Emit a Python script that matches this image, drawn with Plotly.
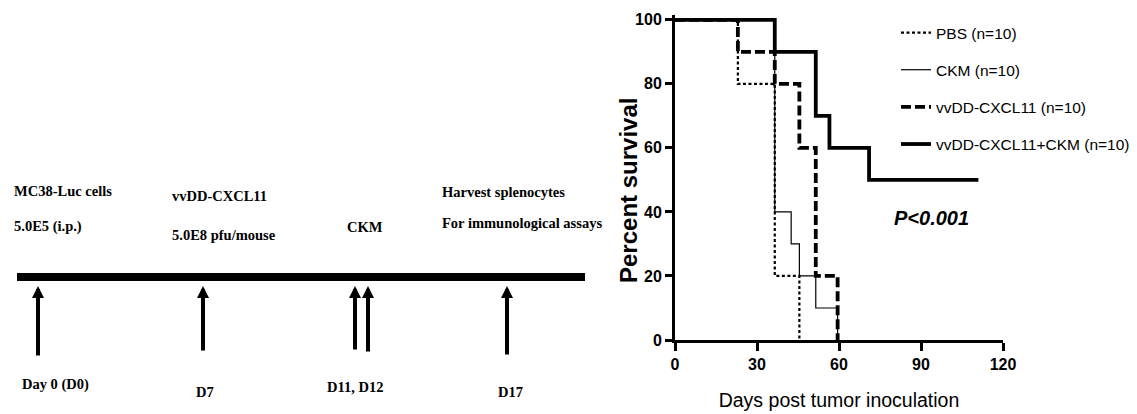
import plotly.graph_objects as go

# ---------------- data ----------------
# Kaplan-Meier survival steps (day, % survival)
group_names = ["PBS (n=10)", "CKM (n=10)", "vvDD-CXCL11 (n=10)", "vvDD-CXCL11+CKM (n=10)"]
pbs_days = [0, 23, 36.5, 45.5]
pbs_surv = [100, 80, 20, 0]
ckm_days = [0, 36.5, 42.5, 45.5, 51.5, 59.5]
ckm_surv = [100, 40, 30, 20, 10, 0]
vv_days = [0, 23, 36.5, 45.5, 51.5, 59.5]
vv_surv = [100, 90, 80, 60, 20, 0]
combo_days = [0, 36.5, 51.5, 56.5, 71, 111]
combo_surv = [100, 90, 70, 60, 50, 50]

x_ticks = [0, 30, 60, 90, 120]
y_ticks = [0, 20, 40, 60, 80, 100]
x_title = "Days post tumor inoculation"
y_title = "Percent survival"
p_text = "P&lt;0.001"

# timeline schematic texts
tl_top_lines = [["MC38-Luc cells", "5.0E5 (i.p.)"],
                ["vvDD-CXCL11", "5.0E8 pfu/mouse"],
                ["CKM"],
                ["Harvest splenocytes", "For immunological assays"]]
tl_day_labels = ["Day 0 (D0)", "D7", "D11, D12", "D17"]

# ---------------- layout helpers (pixel placement of schematic) ----------------
W, H = 1137, 414
MT, MB = 15, 74
PH = H - MT - MB


def px(x):
    return x / W


def py(y):
    return (H - MB - y) / PH


top_x = [12, 170, 345, 440]
top_y = [[191, 227], [196, 235], [227], [192, 223]]
day_x = [55, 205, 355, 510]
day_y = [384, 392, 387, 392]
arrow_x = [38, 203, 355, 368, 507]
arrow_tail = [357, 352, 351, 353, 356]
arrow_tip = 286

serif = "Liberation Serif, Times New Roman, serif"
sans = "Liberation Sans, Arial, sans-serif"
tl_size = 14.5

fig = go.Figure()

styles = [
    dict(color="black", width=2.2, dash="3px,2.5px"),
    dict(color="black", width=1.2),
    dict(color="black", width=3.8, dash="10px,4px"),
    dict(color="black", width=3.8),
]
series = [(pbs_days, pbs_surv), (ckm_days, ckm_surv), (vv_days, vv_surv), (combo_days, combo_surv)]
for name, (d, s), st in zip(group_names, series, styles):
    fig.add_trace(go.Scatter(x=d, y=s, mode="lines", line=dict(shape="hv", **st),
                             name=name, legendgroup=name, hoverinfo="skip"))

annotations = []
# p-value
annotations.append(dict(x=93.7, y=38, xref="x", yref="y", text="<b><i>" + p_text + "</i></b>",
                        showarrow=False, font=dict(family=sans, size=20, color="black")))
# y axis title (placed precisely)
annotations.append(dict(x=px(628), y=py(191), xref="paper", yref="paper", text="<b>" + y_title + "</b>",
                        showarrow=False, textangle=-90, xanchor="center", yanchor="middle",
                        font=dict(family=sans, size=24, color="black")))

# timeline texts
for lines, xs, ys in zip(tl_top_lines, top_x, top_y):
    for ln, yy in zip(lines, ys):
        annotations.append(dict(x=px(xs), y=py(yy), xref="paper", yref="paper", text="<b>" + ln + "</b>",
                                showarrow=False, xanchor="left", yanchor="middle",
                                font=dict(family=serif, size=tl_size, color="black")))
for lab, xx, yy in zip(tl_day_labels, day_x, day_y):
    annotations.append(dict(x=px(xx), y=py(yy), xref="paper", yref="paper", text="<b>" + lab + "</b>",
                            showarrow=False, xanchor="center", yanchor="middle",
                            font=dict(family=serif, size=tl_size, color="black")))
# arrows
for xx, tail in zip(arrow_x, arrow_tail):
    annotations.append(dict(x=px(xx), y=py(arrow_tip), xref="paper", yref="paper", text="",
                            showarrow=True, ax=0, ay=tail - arrow_tip, arrowhead=2,
                            arrowsize=0.6, arrowwidth=4, arrowcolor="black"))

shapes = [dict(type="rect", xref="paper", yref="paper", x0=px(17), x1=px(585),
               y0=py(281), y1=py(273), fillcolor="black", line=dict(width=0))]

fig.update_layout(
    width=W, height=H, autosize=False,
    margin=dict(l=0, r=0, t=MT, b=MB, autoexpand=False),
    paper_bgcolor="white", plot_bgcolor="white",
    showlegend=True,
    legend=dict(x=px(896), y=py(16), xanchor="left", yanchor="top",
                font=dict(family=sans, size=15.5, color="black"),
                bgcolor="rgba(0,0,0,0)", tracegroupgap=14, itemwidth=30),
    xaxis=dict(domain=[px(675), px(1003)], range=[0, 120], tickvals=x_ticks,
               showline=True, linewidth=3, linecolor="black", ticks="outside", ticklen=8,
               tickwidth=3, tickcolor="black", showgrid=False, zeroline=False,
               tickfont=dict(family=sans, size=16, color="black", weight="bold"),
               title=dict(text=x_title, standoff=22,
                          font=dict(family=sans, size=19.5, color="black"))),
    yaxis=dict(domain=[0, 1], range=[0, 101.5], tickvals=y_ticks,
               showline=True, linewidth=3, linecolor="black", ticks="outside", ticklen=7,
               tickwidth=3, tickcolor="black", showgrid=False, zeroline=False,
               tickfont=dict(family=sans, size=16, color="black", weight="bold")),
    annotations=annotations,
    shapes=shapes,
)

fig.write_html("out.html",
               config={"displayModeBar": False, "responsive": False},
               post_script="document.body.style.margin='0';document.documentElement.style.overflow='hidden';")
